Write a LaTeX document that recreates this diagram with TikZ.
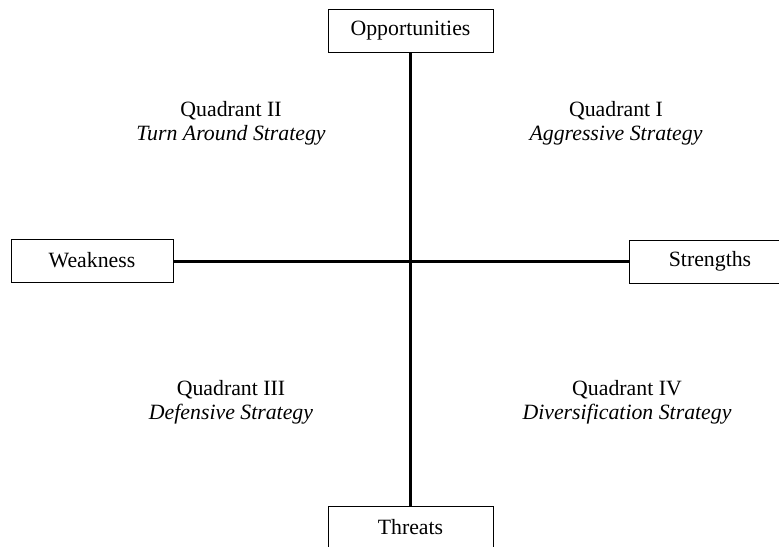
\documentclass[tikz,border=0pt]{standalone}
\usepackage{fontspec}
\setmainfont{Liberation Serif}
\usepackage{xcolor}

\begin{document}
\begin{tikzpicture}[x=0.5pt,y=-0.5pt,
        axisbox/.style={draw,line width=0.5pt,inner sep=0pt,minimum width=81pt,minimum height=21.5pt,
                        font=\fontsize{10.9}{12}\selectfont},
        quadlabel/.style={align=center,font=\fontsize{10.9}{12}\selectfont},
        axisline/.style={line width=1.5pt}]
        \useasboundingbox (0,0) rectangle (779,546);
        \node[axisbox,minimum width=82.5pt] (opp) at (410.5,30.5) {Opportunities};
        \node[axisbox] (weak) at (92,260.5) {Weakness};
        \node[axisbox] (str) at (710,261.5) {Strengths};
        \node[axisbox,minimum width=82.5pt] (thr) at (410.5,527.5) {Threats};
        \draw[axisline] (opp) -- (thr);
        \draw[axisline] (weak.east |- 0,261) -- (str.west |- 0,261);
        \node[quadlabel] (q2) at (231,123) {Quadrant II\\\textit{Turn Around Strategy}};
        \node[quadlabel] (q1) at (616,123) {Quadrant I\\\textit{Aggressive Strategy}};
        \node[quadlabel] (q3) at (231,402) {Quadrant III\\\textit{Defensive Strategy}};
        \node[quadlabel] (q4) at (627,402) {Quadrant IV\\\textit{Diversification Strategy}};
\end{tikzpicture}
\end{document}
